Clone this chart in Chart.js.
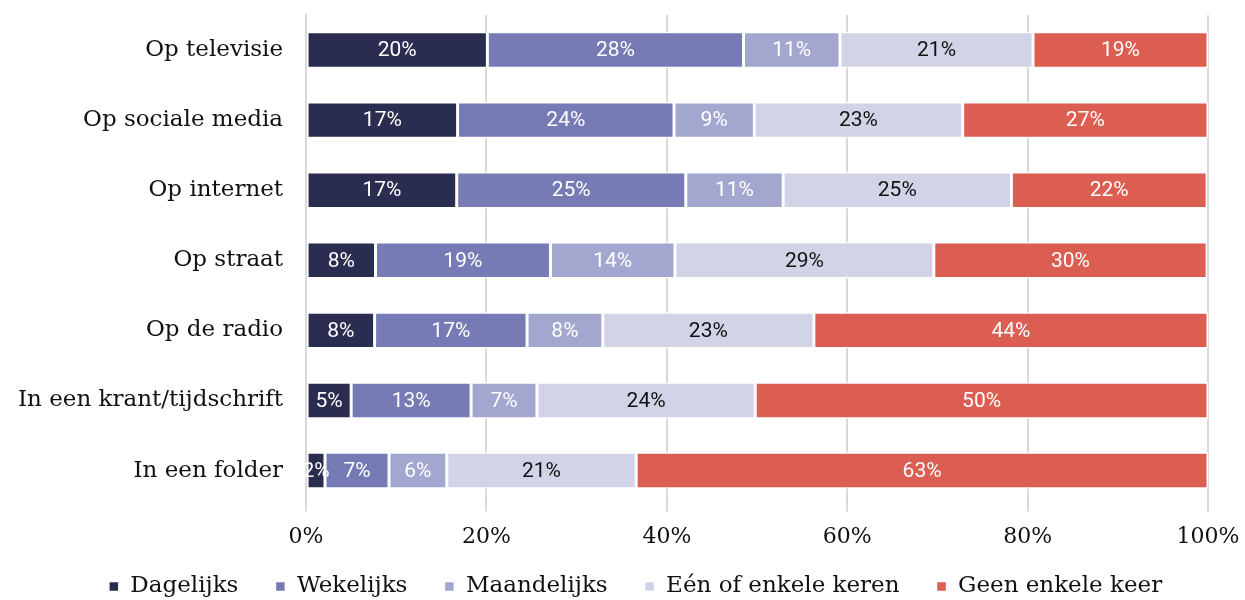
<!DOCTYPE html>
<html lang="nl">
<head>
<meta charset="UTF-8" />
<title>Media bereik</title>
<script src="https://cdn.jsdelivr.net/npm/chart.js"></script>
<style>
  html, body { margin: 0; padding: 0; background: #fff; }
  #wrap { width: 1245px; height: 600px; }
</style>
</head>
<body>
<div id="wrap"><canvas id="mediaChart"></canvas></div>

<script>
  // categories (top to bottom)
  const categories = ["Op televisie", "Op sociale media", "Op internet", "Op straat",
                      "Op de radio", "In een krant/tijdschrift", "In een folder"];

  // series values (%)
  const dagelijks   = [20.1, 16.8, 16.7, 7.7, 7.6, 5.0, 2.1];
  const wekelijks   = [28.4, 24.0, 25.4, 19.4, 16.9, 13.3, 7.1];
  const maandelijks = [10.7, 8.9, 10.8, 13.8, 8.4, 7.3, 6.4];
  const enkele      = [21.4, 23.1, 25.3, 28.7, 23.4, 24.2, 21.0];
  const geen        = [19.4, 27.2, 21.7, 30.3, 43.7, 50.2, 63.4];

  const seriesNames = ["Dagelijks", "Wekelijks", "Maandelijks", "Eén of enkele keren", "Geen enkele keer"];
  const seriesColors = ["#2a2d4f", "#767bb6", "#a3a7d0", "#d1d3e6", "#dc5d51"];
  const labelColors = ["#fff", "#fff", "#fff", "#111", "#fff"];

  const xTicks = [0, 20, 40, 60, 80, 100];

  const serif = "'DejaVu Serif', serif";

  // draws the % inside each segment
  const segmentLabels = {
    id: "segmentLabels",
    afterDatasetsDraw(chart) {
      const ctx = chart.ctx;
      ctx.save();
      ctx.font = "21px Roboto, sans-serif";
      ctx.textAlign = "center";
      ctx.textBaseline = "middle";
      chart.data.datasets.forEach((ds, i) => {
        const meta = chart.getDatasetMeta(i);
        meta.data.forEach((bar, j) => {
          ctx.fillStyle = labelColors[i];
          ctx.fillText(Math.round(ds.data[j]) + "%", (bar.x + bar.base) / 2, bar.y + 1);
        });
      });
      ctx.restore();
    }
  };

  // legend padding is wide between items; keep the box itself short
  const legendHeight = 38;
  const legendShiftY = 24;
  const legendShiftX = 30;
  const tightLegend = {
    id: "tightLegend",
    afterInit(chart) {
      const legend = chart.legend;
      const fit = legend.fit;
      legend.fit = function () { fit.call(this); this.height = legendHeight; };
      const draw = legend.draw;
      legend.draw = function () {
        this.top -= legendShiftY;
        this.left += legendShiftX;
        this.right += legendShiftX;
        draw.call(this);
        this.top += legendShiftY;
        this.left -= legendShiftX;
        this.right -= legendShiftX;
      };
    }
  };

  const allSeries = [dagelijks, wekelijks, maandelijks, enkele, geen];

  new Chart(document.getElementById("mediaChart"), {
    type: "bar",
    data: {
      labels: categories,
      datasets: allSeries.map((vals, i) => ({
        label: seriesNames[i],
        data: vals,
        backgroundColor: seriesColors[i],
        borderColor: "#ffffff",
        borderWidth: 1.5,
        borderSkipped: false,
        barPercentage: 0.52,
        categoryPercentage: 1
      }))
    },
    options: {
      indexAxis: "y",
      responsive: true,
      maintainAspectRatio: false,
      animation: false,
      layout: { padding: { left: 3, right: 37, top: 15, bottom: 0 } },
      plugins: {
        legend: {
          position: "bottom",
          labels: {
            usePointStyle: true,
            pointStyle: "rect",
            boxWidth: 10,
            boxHeight: 10,
            padding: 37,
            color: "#111",
            font: { family: serif, size: 23 }
          }
        },
        tooltip: { enabled: false }
      },
      scales: {
        x: {
          stacked: true,
          min: 0,
          max: 100,
          afterBuildTicks: (axis) => { axis.ticks = xTicks.map(v => ({ value: v })); },
          afterFit: (axis) => { axis.paddingLeft = 0; axis.paddingRight = 0; },
          ticks: {
            callback: (v) => v + "%",
            color: "#111",
            padding: 12,
            font: { family: serif, size: 22 }
          },
          grid: { color: "#d9d9d9", lineWidth: 2, tickLength: 6 },
          border: { display: false }
        },
        y: {
          stacked: true,
          afterFit: (axis) => { axis.paddingTop = 0; axis.paddingBottom = 0; },
          grid: { display: false },
          border: { display: true, color: "#d9d9d9", width: 2 },
          ticks: {
            color: "#111",
            padding: 15,
            font: { family: serif, size: 23 }
          }
        }
      }
    },
    plugins: [segmentLabels, tightLegend]
  });
</script>
</body>
</html>
